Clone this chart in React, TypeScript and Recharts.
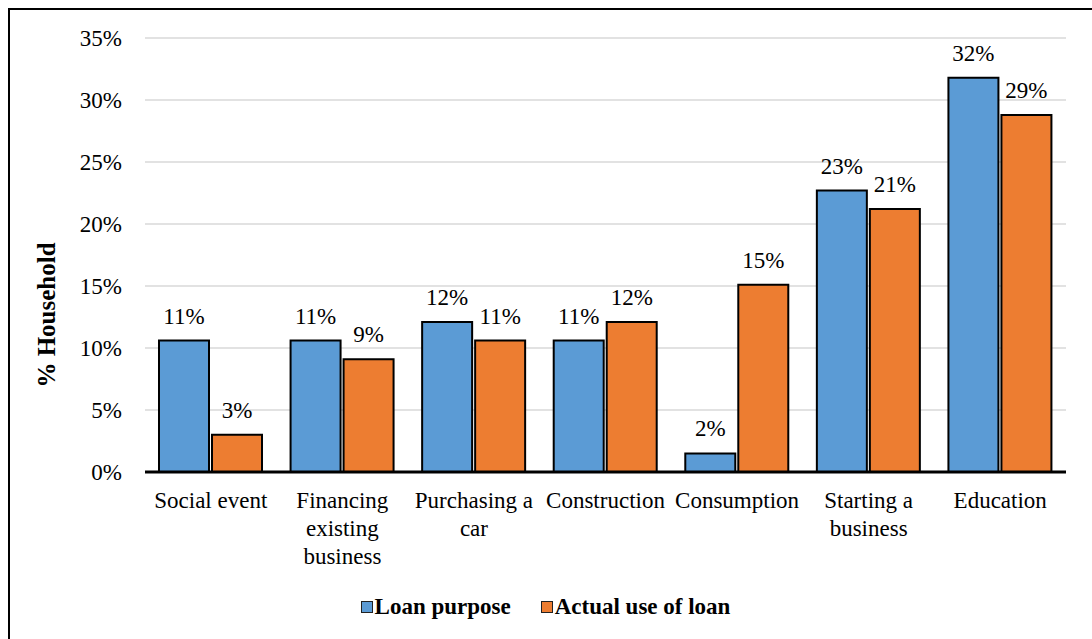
import { BarChart, Bar, XAxis, YAxis, CartesianGrid, Legend, LabelList, Label, ReferenceLine } from 'recharts'

const categories = [
  'Social event',
  'Financing existing business',
  'Purchasing a car',
  'Construction',
  'Consumption',
  'Starting a business',
  'Education',
]
// how each category label breaks onto lines under the axis
const tickLines: string[][] = [
  ['Social event'],
  ['Financing', 'existing', 'business'],
  ['Purchasing a', 'car'],
  ['Construction'],
  ['Consumption'],
  ['Starting a', 'business'],
  ['Education'],
]
const loanPurpose = [10.6, 10.6, 12.1, 10.6, 1.5, 22.7, 31.8]
const actualUse = [3.0, 9.1, 10.6, 12.1, 15.1, 21.2, 28.8]
const yTicks = [0, 5, 10, 15, 20, 25, 30, 35]
const seriesOrder = ['purpose', 'actual']

const data = categories.map((name, i) => ({
  name,
  purpose: loanPurpose[i],
  actual: actualUse[i],
}))

const FONT = 'Liberation Serif, DejaVu Serif, serif'
const FS = 23

const CategoryTick = ({ x, y, payload, index }: any) => {
  const lines = tickLines[index] ?? [payload.value]
  return (
    <text x={x} y={y} textAnchor="middle" fontFamily={FONT} fontSize={FS} fill="#000">
      {lines.map((l, i) => (
        <tspan key={i} x={x} dy={28}>
          {l}
        </tspan>
      ))}
    </text>
  )
}

const LegendBox = ({ payload }: any) => {
  const items = [...(payload || [])].sort(
    (a: any, b: any) => seriesOrder.indexOf(a.dataKey) - seriesOrder.indexOf(b.dataKey)
  )
  return (
    <div
      style={{
        display: 'flex',
        justifyContent: 'center',
        alignItems: 'center',
        gap: 30,
        fontFamily: FONT,
        fontWeight: 'bold',
        fontSize: FS,
        color: '#000',
      }}
    >
      {items.map((p: any) => (
        <span key={p.value} style={{ display: 'flex', alignItems: 'center' }}>
          <span
            style={{
              display: 'inline-block',
              width: 10,
              height: 10,
              background: p.color,
              border: '1.5px solid #222',
              marginRight: 2,
            }}
          />
          {p.value}
        </span>
      ))}
    </div>
  )
}

const App = () => (
  <div style={{ position: 'absolute', left: 0, top: 0, width: 1092, height: 639, overflow: 'hidden', background: '#fff' }}>
    <div
      style={{
        position: 'absolute',
        left: 8,
        top: 8,
        width: 1100,
        height: 700,
        borderLeft: '2px solid #000',
        borderTop: '2px solid #000',
      }}
    />
    <div style={{ position: 'absolute', left: 0, top: 0 }}>
      <BarChart
        width={1092}
        height={639}
        data={data}
        margin={{ top: 38, right: 26, bottom: 37, left: 25 }}
        barGap={3}
        barSize={50}
      >
        <CartesianGrid vertical={false} stroke="#d9d9d9" strokeWidth={1.5} />
        <XAxis
          dataKey="name"
          axisLine={false}
          tickLine={false}
          interval={0}
          height={100}
          tick={<CategoryTick />}
        />
        <YAxis
          width={120}
          domain={[0, 35]}
          ticks={yTicks}
          axisLine={false}
          tickLine={false}
          tickMargin={17}
          tickFormatter={(v) => `${v}%`}
          tick={{ fontFamily: FONT, fontSize: FS, fill: '#000' }}
        >
          <Label
            content={() => (
              <text
                x={46}
                y={315}
                transform="rotate(-90 46 315)"
                textAnchor="middle"
                dominantBaseline="central"
                fontFamily={FONT}
                fontWeight="bold"
                fontSize={25}
                fill="#000"
              >
                % Household
              </text>
            )}
          />
        </YAxis>
        <Legend
          verticalAlign="bottom"
          height={30}
          content={<LegendBox />}
          wrapperStyle={{ top: 594 }}
        />
        <Bar dataKey="purpose" name="Loan purpose" fill="#5b9bd5" stroke="#000" strokeWidth={2} isAnimationActive={false}>
          <LabelList
            dataKey="purpose"
            position="top"
            offset={17}
            formatter={(v: any) => `${Math.round(v)}%`}
            style={{ fontFamily: FONT, fontSize: FS, fill: '#000' }}
          />
        </Bar>
        <Bar dataKey="actual" name="Actual use of loan" fill="#ed7d31" stroke="#000" strokeWidth={2} isAnimationActive={false}>
          <LabelList
            dataKey="actual"
            position="top"
            offset={17}
            formatter={(v: any) => `${Math.round(v)}%`}
            style={{ fontFamily: FONT, fontSize: FS, fill: '#000' }}
          />
        </Bar>
        <ReferenceLine y={0} stroke="#000" strokeWidth={3} />
      </BarChart>
    </div>
  </div>
)

export default App
